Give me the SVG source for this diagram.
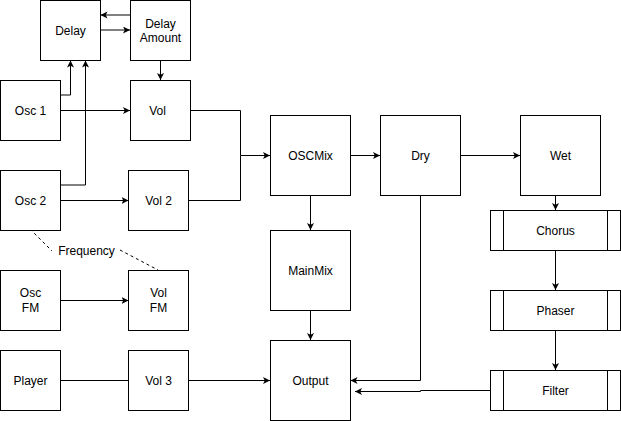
<svg xmlns="http://www.w3.org/2000/svg" width="621" height="421" viewBox="0 0 621 421">
<style>
.box{fill:#fff;stroke:#000;stroke-width:1}
.t{font-family:"Liberation Sans",Arial,sans-serif;font-size:12px;fill:#000;text-anchor:middle;dominant-baseline:central}
.c{fill:none;stroke:#000;stroke-width:1}
.a{marker-end:url(#arr)}
.d{stroke-dasharray:3,3}
</style>
<defs>
<marker id="arr" markerUnits="userSpaceOnUse" markerWidth="8" markerHeight="8" refX="7" refY="3.5" orient="auto">
<path d="M0,0 L7,3.5 L0,7 L1.75,3.5 z" fill="#000"/>
</marker>
</defs>
<rect width="621" height="421" fill="#fff"/>
<g id="connectors">
<path class="c a" d="M130,15 L100.5,15"/>
<path class="c a" d="M100.5,30 L130,30"/>
<path class="c a" d="M160.5,60.5 L160.5,80"/>
<path class="c a" d="M60.5,95 L70.5,95 L70.5,60.5"/>
<path class="c a" d="M60.5,185 L85.5,185 L85.5,60.5"/>
<path class="c a" d="M60.5,110.5 L130,110.5"/>
<path class="c a" d="M60.5,200.5 L128.5,200.5"/>
<path class="c a" d="M190.5,110.5 L240.5,110.5 L240.5,155.5 L270,155.5"/>
<path class="c" d="M188.5,200.5 L240.5,200.5 L240.5,155.5"/>
<path class="c a" d="M60.5,300.5 L128.5,300.5"/>
<path class="c" d="M60.5,380.5 L128.5,380.5"/>
<path class="c a" d="M188.5,380.5 L270,380.5"/>
<path class="c a" d="M350.5,155.5 L380,155.5"/>
<path class="c a" d="M310.5,195.5 L310.5,230"/>
<path class="c a" d="M310.5,310.5 L310.5,340"/>
<path class="c a" d="M420.5,195.5 L420.5,380.5 L350.5,380.5"/>
<path class="c a" d="M460.5,155.5 L520,155.5"/>
<path class="c a" d="M555.5,195.5 L555.5,210"/>
<path class="c a" d="M555.5,250.5 L555.5,290"/>
<path class="c a" d="M555.5,330.5 L555.5,370"/>
<path class="c a" d="M490,390.5 L420.5,390.5 L420.5,391.5 L355,391.5"/>
<path class="c d" d="M30,229 L52,251 M120,250 L158,270"/>
<text class="t" x="86.5" y="250.5">Frequency</text>
</g>
<g id="delay"><rect class="box" x="40.5" y="0.5" width="60" height="60"/><text class="t" x="70.5" y="30.5">Delay</text></g>
<g id="delay-amount"><rect class="box" x="130.5" y="0.5" width="60" height="60"/><text class="t" x="160.5" y="23.5">Delay</text><text class="t" x="160.5" y="37.5">Amount</text></g>
<g id="osc1"><rect class="box" x="0.5" y="80.5" width="60" height="60"/><text class="t" x="30.5" y="110.5">Osc 1</text></g>
<g id="vol"><rect class="box" x="130.5" y="80.5" width="60" height="60"/><text class="t" x="157.5" y="110.5">Vol</text></g>
<g id="osc2"><rect class="box" x="0.5" y="170.5" width="60" height="60"/><text class="t" x="30.5" y="200.5">Osc 2</text></g>
<g id="vol2"><rect class="box" x="128.5" y="170.5" width="60" height="60"/><text class="t" x="158.5" y="200.5">Vol 2</text></g>
<g id="oscfm"><rect class="box" x="0.5" y="270.5" width="60" height="60"/><text class="t" x="30.5" y="293">Osc</text><text class="t" x="30.5" y="308">FM</text></g>
<g id="volfm"><rect class="box" x="128.5" y="270.5" width="60" height="60"/><text class="t" x="158.5" y="293">Vol</text><text class="t" x="158.5" y="308">FM</text></g>
<g id="player"><rect class="box" x="0.5" y="350.5" width="60" height="60"/><text class="t" x="30.5" y="380.5">Player</text></g>
<g id="vol3"><rect class="box" x="128.5" y="350.5" width="60" height="60"/><text class="t" x="158.5" y="380.5">Vol 3</text></g>
<g id="oscmix"><rect class="box" x="270.5" y="115.5" width="80" height="80"/><text class="t" x="310.5" y="155.5">OSCMix</text></g>
<g id="mainmix"><rect class="box" x="270.5" y="230.5" width="80" height="80"/><text class="t" x="310.5" y="270.5">MainMix</text></g>
<g id="output"><rect class="box" x="270.5" y="340.5" width="80" height="80"/><text class="t" x="310.5" y="380.5">Output</text></g>
<g id="dry"><rect class="box" x="380.5" y="115.5" width="80" height="80"/><text class="t" x="420.5" y="155.5">Dry</text></g>
<g id="wet"><rect class="box" x="520.5" y="115.5" width="80" height="80"/><text class="t" x="560.5" y="155.5">Wet</text></g>
<g id="chorus"><rect class="box" x="490.5" y="210.5" width="130" height="40"/><path class="c" d="M503.5,210.5 V250.5 M607.5,210.5 V250.5"/><text class="t" x="555.5" y="230.5">Chorus</text></g>
<g id="phaser"><rect class="box" x="490.5" y="290.5" width="130" height="40"/><path class="c" d="M503.5,290.5 V330.5 M607.5,290.5 V330.5"/><text class="t" x="555.5" y="310.5">Phaser</text></g>
<g id="filter"><rect class="box" x="490.5" y="370.5" width="130" height="40"/><path class="c" d="M503.5,370.5 V410.5 M607.5,370.5 V410.5"/><text class="t" x="555.5" y="390.5">Filter</text></g>
</svg>
